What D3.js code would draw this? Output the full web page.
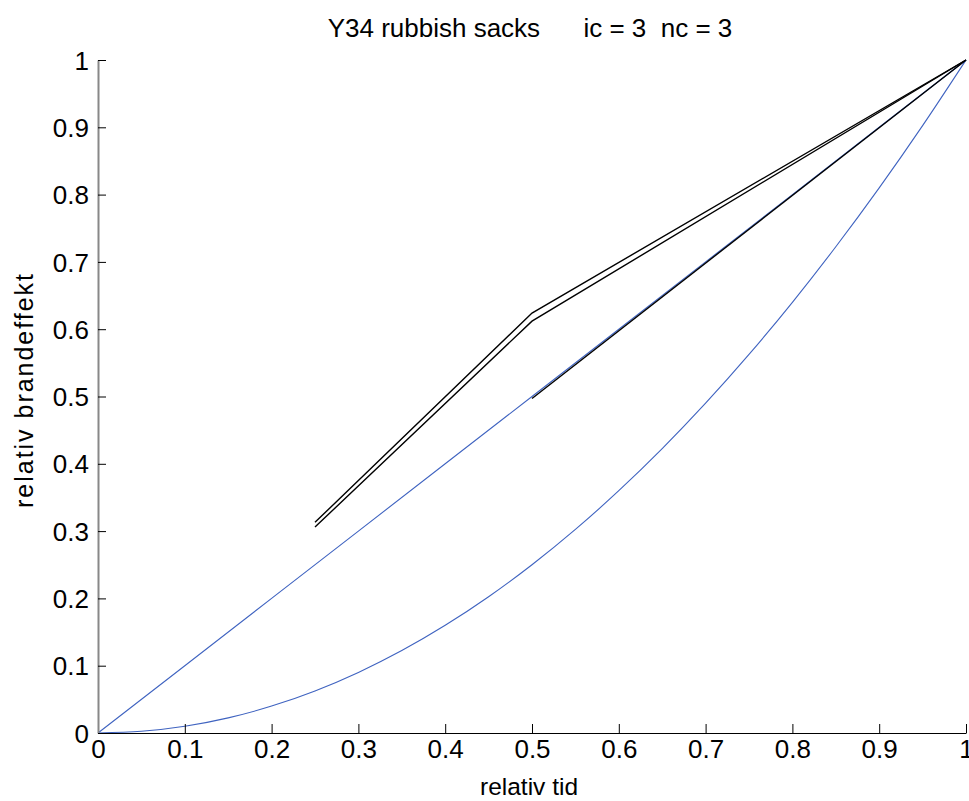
<!DOCTYPE html>
<html>
<head>
<meta charset="utf-8">
<script src="https://cdn.jsdelivr.net/npm/d3@7"></script>
<style>
  html, body { margin: 0; padding: 0; background: #fff; }
  text { font-family: "Liberation Sans", Arial, sans-serif; fill: #000; }
</style>
</head>
<body>
<svg id="chart" width="969" height="801"></svg>
<script>
// ---- data ----
const titleText = "Y34 rubbish sacks      ic = 3  nc = 3";
const xLabel = "relativ tid";
const yLabel = "relativ brandeffekt";
const xTicks = [0, 0.1, 0.2, 0.3, 0.4, 0.5, 0.6, 0.7, 0.8, 0.9, 1];
const yTicks = [0, 0.1, 0.2, 0.3, 0.4, 0.5, 0.6, 0.7, 0.8, 0.9, 1];

// blue: linear growth curve
const linearX = [0, 0.1, 0.2, 0.3, 0.4, 0.5, 0.6, 0.7, 0.8, 0.9, 1];
const linearY = [0, 0.1, 0.2, 0.3, 0.4, 0.5, 0.6, 0.7, 0.8, 0.9, 1];
// blue: quadratic growth curve
const quadX = [0, 0.05, 0.1, 0.15, 0.2, 0.25, 0.3, 0.35, 0.4, 0.45, 0.5,
               0.55, 0.6, 0.65, 0.7, 0.75, 0.8, 0.85, 0.9, 0.95, 1];
const quadY = [0, 0.0025, 0.01, 0.0225, 0.04, 0.0625, 0.09, 0.1225, 0.16, 0.2025, 0.25,
               0.3025, 0.36, 0.4225, 0.49, 0.5625, 0.64, 0.7225, 0.81, 0.9025, 1];
// black fitted segments
const fit1X = [0.25, 0.5, 1];
const fit1Y = [0.313, 0.624, 1];
const fit2X = [0.25, 0.5, 1];
const fit2Y = [0.306, 0.612, 1];
const fit3X = [0.5, 1];
const fit3Y = [0.497, 1];

// ---- drawing ----
const svg = d3.select("#chart");
const x = d3.scaleLinear().domain([0, 1]).range([98, 966]);
const y = d3.scaleLinear().domain([0, 1]).range([733, 60]);

const zip = (xs, ys) => xs.map((v, i) => [v, ys[i]]);
const line = d3.line().x(d => x(d[0])).y(d => y(d[1]));
const smooth = d3.line().x(d => x(d[0])).y(d => y(d[1])).curve(d3.curveMonotoneX);

const blue = "#3f63c0";
svg.append("path").attr("d", line(zip(linearX, linearY)))
  .attr("fill", "none").attr("stroke", blue).attr("stroke-width", 1.1);
svg.append("path").attr("d", smooth(zip(quadX, quadY)))
  .attr("fill", "none").attr("stroke", blue).attr("stroke-width", 1.1);

[[fit1X, fit1Y], [fit2X, fit2Y], [fit3X, fit3Y]].forEach(([xs, ys]) => {
  svg.append("path").attr("d", line(zip(xs, ys)))
    .attr("fill", "none").attr("stroke", "#000").attr("stroke-width", 1.4);
});

// x axis (ticks inward)
const xAxis = d3.axisBottom(x).tickValues(xTicks).tickSizeInner(-9).tickSizeOuter(0)
  .tickFormat(d => d3.format("")(d));
const gx = svg.append("g").attr("transform", "translate(0,733)").call(xAxis);
gx.select(".domain").attr("stroke", "#000").attr("stroke-width", 1.2);
gx.selectAll(".tick line").attr("stroke", "#000");
gx.selectAll(".tick text").attr("font-size", 26).attr("font-family", "Liberation Sans, Arial, sans-serif")
  .attr("dy", "0.71em").attr("y", 7);

// y axis (ticks inward)
const yAxis = d3.axisLeft(y).tickValues(yTicks).tickSizeInner(-8).tickSizeOuter(0)
  .tickFormat(d => d3.format("")(d));
const gy = svg.append("g").attr("transform", "translate(98,0)").call(yAxis);
gy.select(".domain").attr("stroke", "#888").attr("stroke-width", 2);
gy.selectAll(".tick line").attr("stroke", "#000");
gy.selectAll(".tick text").attr("font-size", 26).attr("font-family", "Liberation Sans, Arial, sans-serif")
  .attr("x", -9).attr("dy", "0.35em");

// title
svg.append("text").attr("x", 530).attr("y", 37)
  .attr("text-anchor", "middle").attr("font-size", 26)
  .attr("xml:space", "preserve").style("white-space", "pre")
  .text(titleText);

// axis labels
svg.append("text").attr("x", 529).attr("y", 795)
  .attr("text-anchor", "middle").attr("font-size", 24.5).text(xLabel);
svg.append("text").attr("transform", "translate(33,391) rotate(-90)")
  .attr("text-anchor", "middle").attr("font-size", 25)
  .attr("textLength", 234).attr("lengthAdjust", "spacing")
  .text(yLabel);
</script>
</body>
</html>
